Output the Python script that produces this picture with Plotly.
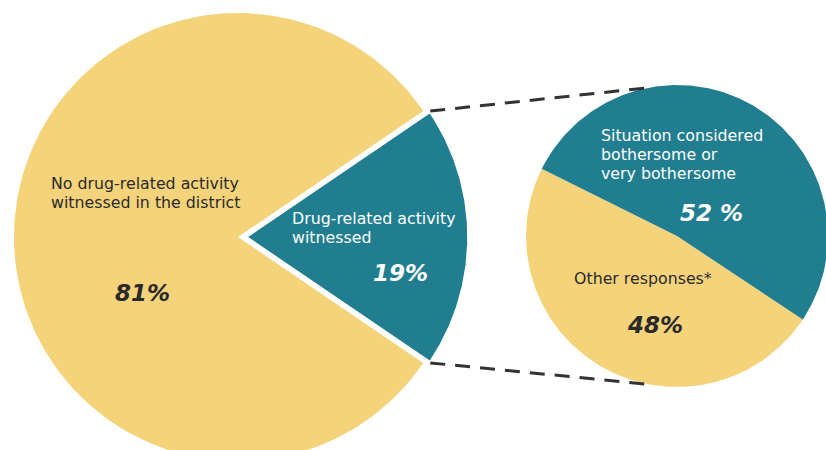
import numpy as np
import plotly.graph_objects as go

# Main pie: share of respondents who witnessed drug-related activity
main_labels = ["No drug-related activity<br>witnessed in the district", "Drug-related activity<br>witnessed"]
main_values = [81, 19]
main_text = ["81%", "19%"]

# Breakdown pie: reaction of those who witnessed activity
sub_labels = ["Situation considered<br>bothersome or<br>very bothersome", "Other responses*"]
sub_values = [52, 48]
sub_text = ["52 %", "48%"]

YELLOW = "#F4D37B"
TEAL = "#207E90"
DARK = "#2a2a2a"
FONT = "DejaVu Sans"

# geometry (pixel-like units, y grows downward)
BIG_C = (238.0, 237.0)
BIG_R = 224.0
EXPLODE = 7.0
SMALL_C = (677.0, 236.0)
SMALL_R = 151.0


def pt(c, r, deg):
    a = np.radians(deg)
    return c[0] + r * np.cos(a), c[1] - r * np.sin(a)


def wedge(c, r, a0, a1, n=200):
    angs = np.linspace(a0, a1, n)
    xs = [c[0]] + [pt(c, r, a)[0] for a in angs] + [c[0]]
    ys = [c[1]] + [pt(c, r, a)[1] for a in angs] + [c[1]]
    return xs, ys


fig = go.Figure()

# big pie: witnessed slice centred on 0 degrees, pulled out to the right
tot = sum(main_values)
span_w = main_values[1] / tot * 360.0
half = span_w / 2.0
xs, ys = wedge(BIG_C, BIG_R, half, 360.0 - half)
fig.add_trace(go.Scatter(x=xs, y=ys, fill="toself", fillcolor=YELLOW, mode="lines",
                         line=dict(width=0), hoverinfo="skip", showlegend=False))
apex = (BIG_C[0] + EXPLODE, BIG_C[1])
xs, ys = wedge(apex, BIG_R, -half, half)
fig.add_trace(go.Scatter(x=xs, y=ys, fill="toself", fillcolor=TEAL, mode="lines",
                         line=dict(width=3.5, color="white"), hoverinfo="skip", showlegend=False))

# small pie: bothersome slice centred at 60 degrees
stot = sum(sub_values)
s_span = sub_values[0] / stot * 360.0
mid = 60.0
xs, ys = wedge(SMALL_C, SMALL_R, mid + s_span / 2.0, mid + 360.0 - s_span / 2.0)
fig.add_trace(go.Scatter(x=xs, y=ys, fill="toself", fillcolor=YELLOW, mode="lines",
                         line=dict(width=0), hoverinfo="skip", showlegend=False))
xs, ys = wedge(SMALL_C, SMALL_R, mid - s_span / 2.0, mid + s_span / 2.0)
fig.add_trace(go.Scatter(x=xs, y=ys, fill="toself", fillcolor=TEAL, mode="lines",
                         line=dict(width=0), hoverinfo="skip", showlegend=False))

# dashed connectors from the pulled slice to the breakdown pie
for sgn in (1, -1):
    p0 = pt(apex, BIG_R, sgn * half)
    p1 = pt(SMALL_C, SMALL_R, sgn * 100.7)
    fig.add_trace(go.Scatter(x=[p0[0], p1[0]], y=[p0[1], p1[1]], mode="lines",
                             line=dict(color="#333333", width=3, dash="15px,10px"),
                             hoverinfo="skip", showlegend=False))


def label(x, y0, text, color, step=19, size=15.8):
    # one annotation per line so the line spacing can be set explicitly
    for i, line in enumerate(text.split("<br>")):
        fig.add_annotation(x=x, y=y0 + i * step, text=line, showarrow=False,
                           xanchor="left", yanchor="middle",
                           font=dict(family=FONT, size=size, color=color))


def value(x, y, text, color):
    fig.add_annotation(x=x, y=y, text="<b><i>" + text + "</i></b>", showarrow=False,
                       xanchor="center", yanchor="middle",
                       font=dict(family=FONT, size=23, color=color))


label(49, 183, main_labels[0], DARK)
value(142, 293, main_text[0], DARK)
label(290, 218, main_labels[1], "white")
value(400, 273, main_text[1], "white")
label(599, 135, sub_labels[0], "white")
value(711, 213, sub_text[0], "white")
label(572, 278, sub_labels[1], DARK)
value(655, 325, sub_text[1], DARK)

fig.update_xaxes(range=[0, 826], visible=False, fixedrange=True)
fig.update_yaxes(range=[450, 0], visible=False, fixedrange=True)
fig.update_layout(width=826, height=450, margin=dict(l=0, r=0, t=0, b=0),
                  plot_bgcolor="white", paper_bgcolor="white")

fig.write_html("out.html")
